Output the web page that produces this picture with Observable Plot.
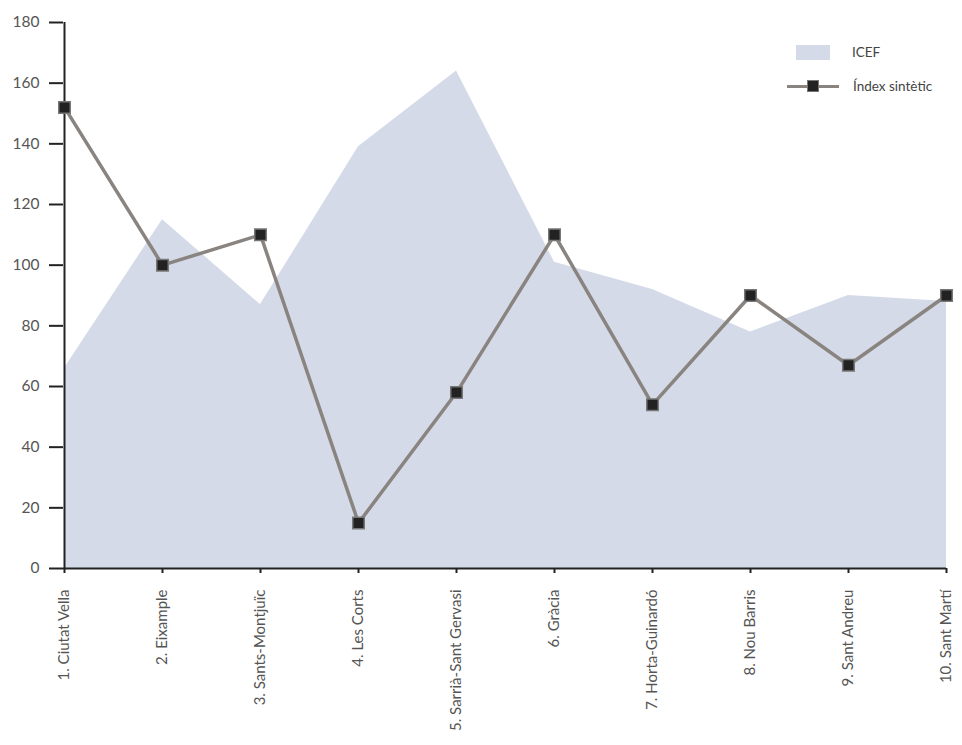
<!DOCTYPE html>
<html>
<head>
<meta charset="utf-8">
<script src="https://cdn.jsdelivr.net/npm/d3@7"></script>
<script src="https://cdn.jsdelivr.net/npm/@observablehq/plot@0.6"></script>
<style>
  body { margin: 0; background: #fff; font-family: Lato, "Open Sans", sans-serif; }
  #wrap { position: relative; width: 962px; height: 745px; }
  .leg { position: absolute; font-size: 13.5px; color: #444; display: flex; align-items: center; }
  .sw { width: 34px; height: 15px; background: #d4dae8; margin-right: 22px; }
  .ln { position: relative; width: 52px; height: 15px; margin-right: 14px; }
  .ln:before { content: ""; position: absolute; left: 0; right: 0; top: 6px; height: 3px; background: #8a8480; }
  .ln:after { content: ""; position: absolute; left: 20px; top: 1px; width: 10px; height: 10px; background: #222; border: 1.5px solid #777; }
</style>
</head>
<body>
<div id="wrap"></div>
<script>
const districts = ["1. Ciutat Vella", "2. Eixample", "3. Sants-Montjuïc", "4. Les Corts", "5. Sarrià-Sant Gervasi", "6. Gràcia", "7. Horta-Guinardó", "8. Nou Barris", "9. Sant Andreu", "10. Sant Martí"];
const icef = [66, 115, 87, 139, 164, 101, 92, 78, 90, 88];
const indexSintetic = [152, 100, 110, 15, 58, 110, 54, 90, 67, 90];
const yTicks = [0, 20, 40, 60, 80, 100, 120, 140, 160, 180];

const data = districts.map((d, i) => ({district: d, icef: icef[i], idx: indexSintetic[i]}));

const chart = Plot.plot({
  width: 962,
  height: 745,
  marginLeft: 63,
  marginRight: 16,
  marginTop: 22,
  marginBottom: 177,
  style: {fontFamily: "Lato, 'Open Sans', sans-serif", fontSize: "15px", color: "#555", background: "#fff"},
  x: {type: "point", domain: districts, padding: 0, label: null},
  y: {domain: [0, 180], label: null},
  marks: [
    Plot.areaY(data, {x: "district", y: "icef", fill: "#d4dae8", curve: "linear"}),
    Plot.ruleY([0], {stroke: "#222", strokeWidth: 2}),
    Plot.ruleX([districts[0]], {y1: 0, y2: 180, stroke: "#222", strokeWidth: 2}),
    Plot.axisY({ticks: yTicks, tickSize: 14, tickPadding: 10, stroke: "#222", strokeWidth: 2, fill: "#555", fontSize: 15.5}),
    Plot.axisX({tickRotate: -90, tickSize: 5, tickPadding: 16, stroke: "#222", strokeWidth: 2, fill: "#555", fontSize: 15}),
    Plot.lineY(data, {x: "district", y: "idx", stroke: "#8a8480", strokeWidth: 3.5}),
    Plot.dot(data, {x: "district", y: "idx", symbol: "square", r: 6.5, fill: "#222", stroke: "#777", strokeWidth: 1.5})
  ]
});

const wrap = document.getElementById("wrap");
wrap.appendChild(chart);

const legend = [
  {label: "ICEF", cls: "sw", left: 796, top: 44},
  {label: "Índex sintètic", cls: "ln", left: 787, top: 78}
];
for (const l of legend) {
  const el = document.createElement("div");
  el.className = "leg";
  el.style.left = l.left + "px";
  el.style.top = l.top + "px";
  const s = document.createElement("span");
  s.className = l.cls;
  el.appendChild(s);
  const t = document.createElement("span");
  t.textContent = l.label;
  el.appendChild(t);
  wrap.appendChild(el);
}
</script>
</body>
</html>
